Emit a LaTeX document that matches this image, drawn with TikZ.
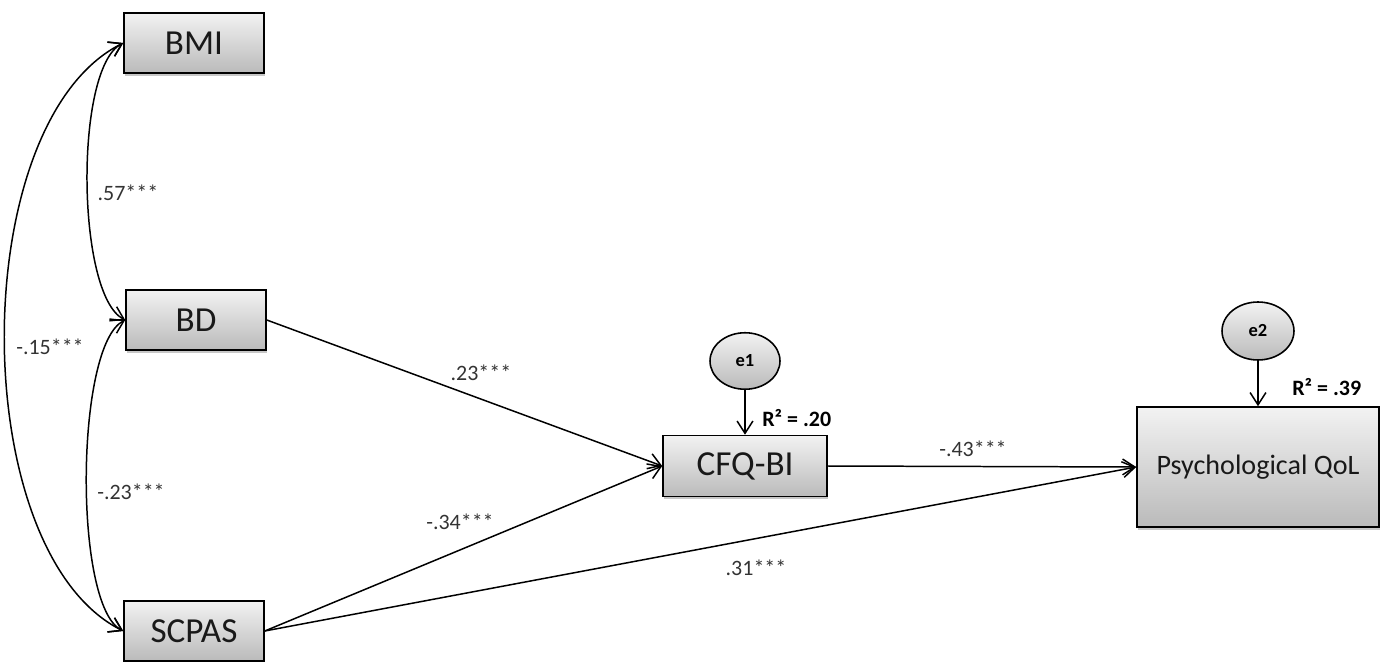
\documentclass[tikz,border=0pt]{standalone}
\usepackage{fontspec}
\setmainfont{Carlito}
\usetikzlibrary{shapes.geometric, arrows.meta, shadows}
\tikzset{
  var/.style = {draw, line width=0.9pt, rectangle, top color=black!5, bottom color=black!27,
    drop shadow={shadow xshift=0.8pt, shadow yshift=-1.6pt, fill=black, opacity=0.22},
    minimum width=2.8cm, minimum height=1.2cm, inner sep=0pt,
    font=\fontsize{20}{24}\selectfont, text=black!90},
  err/.style = {draw, line width=0.9pt, ellipse, top color=black!5, bottom color=black!27,
    minimum width=1.4cm, minimum height=1.13cm, inner sep=0pt,
    font=\bfseries\fontsize{10.5}{12}\selectfont},
  coef/.style = {inner sep=0pt, font=\fontsize{12.5}{14}\selectfont, text=black!80},
  rsq/.style = {inner sep=0pt, anchor=west, font=\bfseries\fontsize{12.5}{14}\selectfont},
  arrow/.style = {line width=0.85pt, -{Straight Barb[length=7pt,width=9pt]}},
  dblarrow/.style = {line width=0.85pt, {Straight Barb[length=7pt,width=9pt]}-{Straight Barb[length=7pt,width=9pt]}}
}

\begin{document}
\begin{tikzpicture}[x=0.02cm, y=-0.02cm]

\useasboundingbox (0,0) rectangle (1387,662);

% observed variables
\node[var] (BMI) at (194,43) {BMI};
\node[var] (BD) at (196,320) {BD};
\node[var] (SCPAS) at (194,631) {SCPAS};
\node[var, minimum width=3.28cm, minimum height=1.22cm] (CFQ) at (745,466) {CFQ-BI};
\node[var, minimum width=4.84cm, minimum height=2.4cm, font=\fontsize{16}{19}\selectfont] (QoL) at (1258,467) {Psychological QoL};

% error terms
\node[err] (e1) at (745,361) {e1};
\node[err, minimum width=1.44cm, minimum height=1.16cm] (e2) at (1258,331) {e2};

% covariances
\draw[dblarrow] (BMI.west) .. controls +(-49,25) and +(-49,-25) .. (BD.west);
\draw[dblarrow] (BD.west) .. controls +(-50,25) and +(-50,-25) .. (SCPAS.west);
\draw[dblarrow] (BMI.west) .. controls +(-158,79) and +(-158,-79) .. (SCPAS.west);

% paths
\draw[arrow] (BD.east) -- (CFQ.west);
\draw[arrow] (SCPAS.east) -- (CFQ.west);
\draw[arrow] (SCPAS.east) -- (QoL.west);
\draw[arrow] (CFQ.east) -- (QoL.west);
\draw[arrow] (e1.south) -- (CFQ.north);
\draw[arrow] (e2.south) -- (QoL.north);

% estimates
\node[coef] (c1) at (128,193) {.57***};
\node[coef] (c2) at (50,347) {-.15***};
\node[coef] (c3) at (131,492) {-.23***};
\node[coef] (c4) at (481,373) {.23***};
\node[coef] (c5) at (460,522) {-.34***};
\node[coef] (c6) at (756,568) {.31***};
\node[coef] (c7) at (973,449) {-.43***};
\node[rsq] (r1) at (762,418) {R² = .20};
\node[rsq] (r2) at (1292,387) {R² = .39};

\end{tikzpicture}
\end{document}
